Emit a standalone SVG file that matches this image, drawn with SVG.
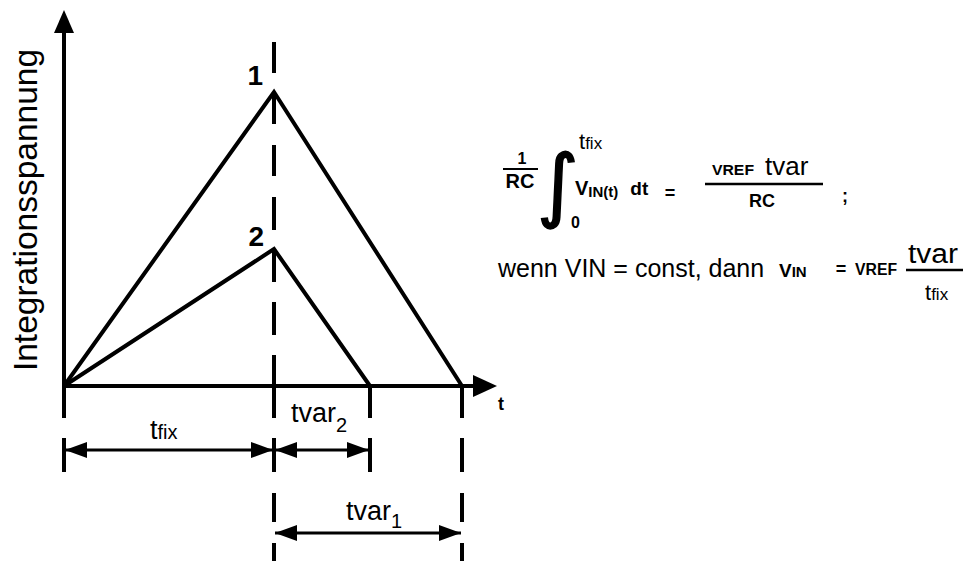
<svg xmlns="http://www.w3.org/2000/svg" width="966" height="561" viewBox="0 0 966 561">
<style>
.ln{fill:none;stroke:#000;stroke-width:4;stroke-linecap:butt;stroke-linejoin:miter}
.dim{fill:none;stroke:#000;stroke-width:3}
.t{font-family:"Liberation Sans",Arial,sans-serif;fill:#000}
.b{font-family:"Liberation Sans",Arial,sans-serif;font-weight:bold;fill:#000}
</style>
<defs>
<marker id="ah" viewBox="0 0 22 16" refX="22" refY="8" markerWidth="22" markerHeight="16" markerUnits="userSpaceOnUse" orient="auto-start-reverse">
<path d="M0,0 L22,8 L0,16 Z" fill="#000"/>
</marker>
</defs>
<rect width="966" height="561" fill="#fff"/>

<g id="axes">
<path class="ln" d="M64,386 V28"/>
<path d="M64,10 L74,33 L54,33 Z" fill="#000"/>
<path class="ln" d="M64,386 H476"/>
<path d="M497,386 L473,375 L473,397 Z" fill="#000"/>
<text class="t" font-size="33.5" text-anchor="middle" transform="translate(37,210) rotate(-90)">Integrationsspannung</text>
<text class="b" x="498" y="410" font-size="18">t</text>
</g>

<g id="connectors">
<path class="ln" d="M64,386 L274,92 L462,386"/>
<path class="ln" d="M64,386 L274,249 L370,386"/>
<path class="ln" d="M274,42 V73 M274,92 V124 M274,145 V176 M274,197 V230 M274,249 V282 M274,302 V335 M274,355 V418 M274,438 V472 M274,493 V522 M274,543 V561"/>
<path class="ln" d="M462,386 V418 M462,438 V472 M462,493 V522 M462,543 V561"/>
<path class="ln" d="M370,386 V418 M370,438 V472"/>
<path class="ln" d="M64,386 V418 M64,438 V472"/>
<line class="dim" x1="65" y1="450" x2="273" y2="450" marker-start="url(#ah)" marker-end="url(#ah)"/>
<line class="dim" x1="275" y1="450" x2="369" y2="450" marker-start="url(#ah)" marker-end="url(#ah)"/>
<line class="dim" x1="275" y1="533" x2="461" y2="533" marker-start="url(#ah)" marker-end="url(#ah)"/>
</g>

<g id="peak1"><text class="b" x="263" y="85" font-size="28" text-anchor="end">1</text></g>
<g id="peak2"><text class="b" x="264" y="246" font-size="28" text-anchor="end">2</text></g>

<g id="label-tfix"><text class="t" x="150" y="439" font-size="27">t<tspan font-size="20">fix</tspan></text></g>
<g id="label-tvar2"><text class="t" x="291" y="422" font-size="27">tvar<tspan font-size="20" dy="10">2</tspan></text></g>
<g id="label-tvar1"><text class="t" x="346" y="520" font-size="27">tvar<tspan font-size="20" dy="8">1</tspan></text></g>

<g id="formula1">
<text class="b" x="522" y="164" font-size="16" text-anchor="middle">1</text>
<line x1="503" y1="169" x2="538" y2="169" stroke="#000" stroke-width="2"/>
<text class="b" x="520" y="188" font-size="20" text-anchor="middle">RC</text>
<text x="537" y="212" font-size="80" font-family="DejaVu Sans,sans-serif" fill="#000" stroke="#000" stroke-width="1.5">∫</text>
<text class="t" x="579" y="149" font-size="22">t<tspan font-size="17">fix</tspan></text>
<text class="b" x="571" y="228" font-size="16">0</text>
<text class="b" x="575" y="195" font-size="20">V<tspan font-size="15" dy="2">IN(t)</tspan><tspan font-size="19" dx="12" dy="-2">dt</tspan></text>
<text class="b" x="670" y="199" font-size="18" text-anchor="middle">=</text>
<text class="b" x="712" y="175" font-size="14" textLength="42" lengthAdjust="spacingAndGlyphs">VREF</text>
<text class="t" x="765" y="175" font-size="26">tvar</text>
<line x1="705" y1="184" x2="823" y2="184" stroke="#000" stroke-width="2.5"/>
<text class="b" x="762" y="207" font-size="18" text-anchor="middle">RC</text>
<text class="b" x="845" y="202" font-size="18" text-anchor="middle">;</text>
</g>

<g id="formula2">
<text class="t" x="498" y="277" font-size="25">wenn VIN = const, dann</text>
<text class="b" x="779" y="277" font-size="19">V<tspan font-size="15">IN</tspan></text>
<text class="b" x="841" y="275" font-size="18" text-anchor="middle">=</text>
<text class="b" x="855" y="275" font-size="16" textLength="42" lengthAdjust="spacingAndGlyphs">VREF</text>
<text class="t" x="908" y="263" font-size="27" textLength="50" lengthAdjust="spacingAndGlyphs">tvar</text>
<line x1="906" y1="270" x2="963" y2="270" stroke="#000" stroke-width="2.5"/>
<text class="t" x="925" y="300" font-size="22">t<tspan font-size="17">fix</tspan></text>
</g>
</svg>
